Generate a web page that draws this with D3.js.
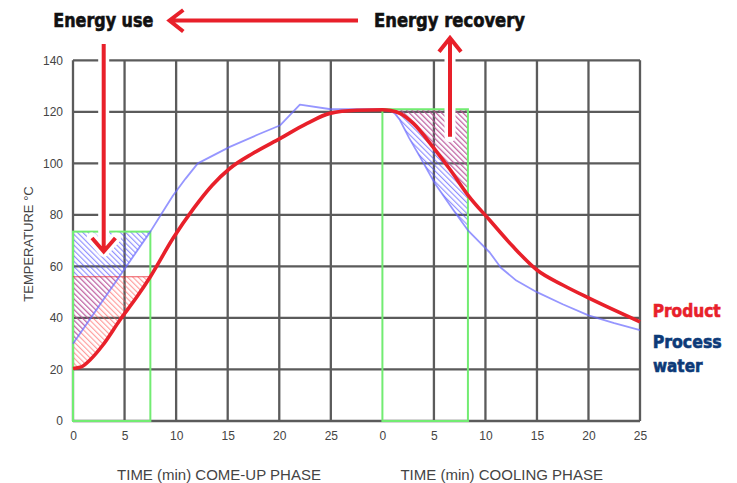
<!DOCTYPE html>
<html>
<head>
<meta charset="utf-8">
<script src="https://cdn.jsdelivr.net/npm/d3@7"></script>
<style>
  body { margin: 0; background: #fff; }
  svg { display: block; }
</style>
</head>
<body>
<svg id="chart" width="737" height="483"></svg>
<script>
// ticks
const timeTicks = [0, 5, 10, 15, 20, 25];
const tempTicks = [0, 20, 40, 60, 80, 100, 120, 140];

// come-up phase (minutes, °C)
const upTime      = [0, 0.8, 1.65, 2.9, 4.55, 6.2, 7.5, 9.7, 11.7, 13.5, 15.2, 17.5, 20.1, 22.7, 24.9, 27.5, 30];
const upProduct   = [20.4, 21, 23.7, 29.5, 39.2, 48.2, 56, 70.9, 82.5, 91.5, 98, 104, 109.7, 115.5, 119.4, 120.6, 120.8];
const upWaterTime = [0, 7.5, 8.6, 9.7, 10.9, 12.1, 15.2, 18, 20.1, 22, 25, 30];
const upWater     = [30, 73.5, 80.5, 87.5, 94, 100, 106.4, 111.3, 114.8, 122.8, 121, 121];

// cooling phase (minutes, °C)
const coolTime      = [0, 0.8, 1.7, 3, 4.9, 6.6, 8.3, 10.4, 12.7, 15, 17.5, 20.1, 25];
const coolProduct   = [120.8, 120.5, 119.4, 115.5, 106.4, 97.4, 87.7, 78, 67.6, 58.6, 52.8, 47.6, 38.5];
const coolWaterTime = [0, 0.7, 1.2, 1.7, 2.6, 3.65, 5.1, 6.9, 8.3, 9.4, 10.4, 11.5, 13, 15, 17.5, 20, 22.5, 25];
const coolWater     = [121, 120.6, 119.4, 116.8, 109.8, 102.5, 92.2, 81.8, 74, 69.5, 65.5, 59.5, 54.5, 50, 45.3, 41, 38, 35.3];

// heat exchange zones
const upZoneEnd = 7.5, upZoneTop = 73.5, upProductTop = 56;
const coolZoneEnd = 8.3, coolZoneTop = 121;

const RED = "#e8202a", NAVY = "#0d3a78";
const narrow = "'Liberation Sans Narrow', 'DejaVu Sans Condensed', 'Arial Narrow', sans-serif";
const plain = "'Liberation Sans', Arial, Helvetica, sans-serif";

const svg = d3.select("#chart");

const y = d3.scaleLinear().domain([0, 140]).range([421, 60.3]);
const xUp = d3.scaleLinear().domain([0, 30]).range([73, 382.4]);
const xCool = d3.scaleLinear().domain([0, 25]).range([382.4, 640]);

// build pixel series across both phases
const series = (t1, v1, t2, v2) =>
    t1.map((t, i) => ({ x: xUp(t), v: v1[i] }))
      .concat(t2.slice(1).map((t, i) => ({ x: xCool(t), v: v2[i + 1] })));
const product = series(upTime, upProduct, coolTime, coolProduct);
const water = series(upWaterTime, upWater, coolWaterTime, coolWater);

// hatch patterns
const defs = svg.append("defs");
function hatch(id, color, op) {
    const p = defs.append("pattern")
        .attr("id", id)
        .attr("patternUnits", "userSpaceOnUse")
        .attr("width", 3.8).attr("height", 3.8)
        .attr("patternTransform", "rotate(-45)");
    p.append("line")
        .attr("x1", 0.6).attr("y1", 0).attr("x2", 0.6).attr("y2", 3.8)
        .attr("stroke", color).attr("stroke-width", 1.1).attr("opacity", op);
}
hatch("hBlue", "#4a4aff", 0.65);
hatch("hRed", "#ff5050", 0.6);

defs.append("clipPath").attr("id", "clipUp").append("rect")
    .attr("x", xUp(0)).attr("y", 0)
    .attr("width", xUp(upZoneEnd) - xUp(0)).attr("height", y(0));
defs.append("clipPath").attr("id", "clipCool").append("rect")
    .attr("x", xCool(0)).attr("y", 0)
    .attr("width", xCool(coolZoneEnd) - xCool(0)).attr("height", y(0));

// grid
const grid = svg.append("g")
    .attr("stroke", "#333").attr("stroke-width", 2.3).attr("opacity", 0.8);
grid.selectAll(".h").data(tempTicks).enter().append("line")
    .attr("x1", xUp(0)).attr("x2", xCool(25))
    .attr("y1", d => y(d)).attr("y2", d => y(d));
const vx = timeTicks.map(t => xUp(t)).concat(timeTicks.slice(1).map(t => xCool(t)));
grid.selectAll(".v").data(vx).enter().append("line")
    .attr("x1", d => d).attr("x2", d => d)
    .attr("y1", y(140)).attr("y2", y(0));

// hatched areas
const area = (top, curve) => d3.area().curve(curve)
    .x(d => d.x).y0(y(top)).y1(d => y(d.v));
svg.append("path").datum(water).attr("clip-path", "url(#clipUp)")
    .attr("fill", "url(#hBlue)").attr("d", area(upZoneTop, d3.curveLinear));
svg.append("path").datum(product).attr("clip-path", "url(#clipUp)")
    .attr("fill", "url(#hRed)").attr("d", area(upProductTop, d3.curveMonotoneX));
svg.append("path").datum(water).attr("clip-path", "url(#clipCool)")
    .attr("fill", "url(#hBlue)").attr("d", area(coolZoneTop, d3.curveLinear));
svg.append("path").datum(product).attr("clip-path", "url(#clipCool)")
    .attr("fill", "url(#hRed)").attr("d", area(coolZoneTop, d3.curveMonotoneX));

// green zone frames
svg.append("rect")
    .attr("x", xUp(0)).attr("y", y(upZoneTop))
    .attr("width", xUp(upZoneEnd) - xUp(0)).attr("height", y(0) - y(upZoneTop))
    .attr("fill", "none").attr("stroke", "#72ec72").attr("stroke-width", 2);
svg.append("rect")
    .attr("x", xCool(0)).attr("y", y(coolZoneTop))
    .attr("width", xCool(coolZoneEnd) - xCool(0)).attr("height", y(0) - y(coolZoneTop))
    .attr("fill", "none").attr("stroke", "#72ec72").attr("stroke-width", 2);

// red product level line in come-up zone
svg.append("line")
    .attr("x1", xUp(0)).attr("x2", xUp(upZoneEnd))
    .attr("y1", y(upProductTop)).attr("y2", y(upProductTop))
    .attr("stroke", RED).attr("stroke-width", 1.1).attr("opacity", 0.75);

// curves
const waterLine = d3.line().x(d => d.x).y(d => y(d.v));
const productLine = d3.line().curve(d3.curveMonotoneX).x(d => d.x).y(d => y(d.v));
svg.append("path").datum(water)
    .attr("fill", "none").attr("stroke", "#6a6aff").attr("stroke-width", 1.8)
    .attr("stroke-linejoin", "round").attr("opacity", 0.7).attr("d", waterLine);
svg.append("path").datum(product)
    .attr("fill", "none").attr("stroke", RED).attr("stroke-width", 3.6)
    .attr("stroke-linejoin", "round").attr("d", productLine);

// axes
const axisFont = g => g.attr("font-family", plain).attr("font-size", 12)
    .call(g => g.select(".domain").remove())
    .call(g => g.selectAll("text").attr("fill", "#444"));
svg.append("g").attr("transform", `translate(${xUp(0)},0)`)
    .call(d3.axisLeft(y).tickValues(tempTicks).tickSize(0).tickPadding(10))
    .call(axisFont);
svg.append("g").attr("transform", `translate(0,${y(0)})`)
    .call(d3.axisBottom(xUp).tickValues(timeTicks).tickSize(0).tickPadding(10))
    .call(axisFont);
svg.append("g").attr("transform", `translate(0,${y(0)})`)
    .call(d3.axisBottom(xCool).tickValues(timeTicks).tickSize(0).tickPadding(10))
    .call(axisFont);

svg.append("text")
    .attr("transform", "translate(33.3,244) rotate(-90)")
    .attr("text-anchor", "middle")
    .attr("font-family", plain).attr("font-size", 13).attr("fill", "#444")
    .text("TEMPERATURE °C");
svg.append("text")
    .attr("x", 219).attr("y", 480).attr("text-anchor", "middle")
    .attr("font-family", plain).attr("font-size", 15).attr("fill", "#444")
    .text("TIME (min) COME-UP PHASE");
svg.append("text")
    .attr("x", 501.7).attr("y", 480).attr("text-anchor", "middle")
    .attr("font-family", plain).attr("font-size", 15).attr("fill", "#444")
    .text("TIME (min) COOLING PHASE");

// arrows (white halo then red stroke)
function arrow(shaft, head) {
    const d = `M${shaft[0]}L${shaft[1]}M${head[0]}L${head[1]}L${head[2]}`;
    svg.append("path").attr("d", d).attr("fill", "none")
        .attr("stroke", "#fff").attr("stroke-width", 11)
        .attr("stroke-linecap", "round").attr("stroke-linejoin", "round");
    svg.append("path").attr("d", d).attr("fill", "none")
        .attr("stroke", RED).attr("stroke-width", 4)
        .attr("stroke-linejoin", "miter");
}
arrow([[358, 20.5], [171, 20.5]], [[183.3, 10], [169.5, 20.5], [183.3, 31.5]]);
arrow([[103.7, 44], [103.7, 249]], [[92, 238], [103.7, 251.5], [115.4, 238]]);
arrow([[450, 136.7], [450, 40]], [[439, 51.7], [450, 38], [461, 51.7]]);

// labels
const bold = (x, y0, txt, len, color, size) => svg.append("text")
    .attr("x", x).attr("y", y0)
    .attr("font-family", narrow).attr("font-weight", "bold")
    .attr("font-size", size).attr("fill", color)
    .attr("stroke", color).attr("stroke-width", 0.6)
    .attr("textLength", len).attr("lengthAdjust", "spacingAndGlyphs")
    .text(txt);
bold(53.3, 27, "Energy use", 100, "#111", 20);
bold(374, 27, "Energy recovery", 151, "#111", 20);
bold(652.7, 317, "Product", 68, RED, 18.5);
bold(652.7, 348, "Process", 69, NAVY, 18.5);
bold(653, 372, "water", 49.5, NAVY, 18.5);
</script>
</body>
</html>
